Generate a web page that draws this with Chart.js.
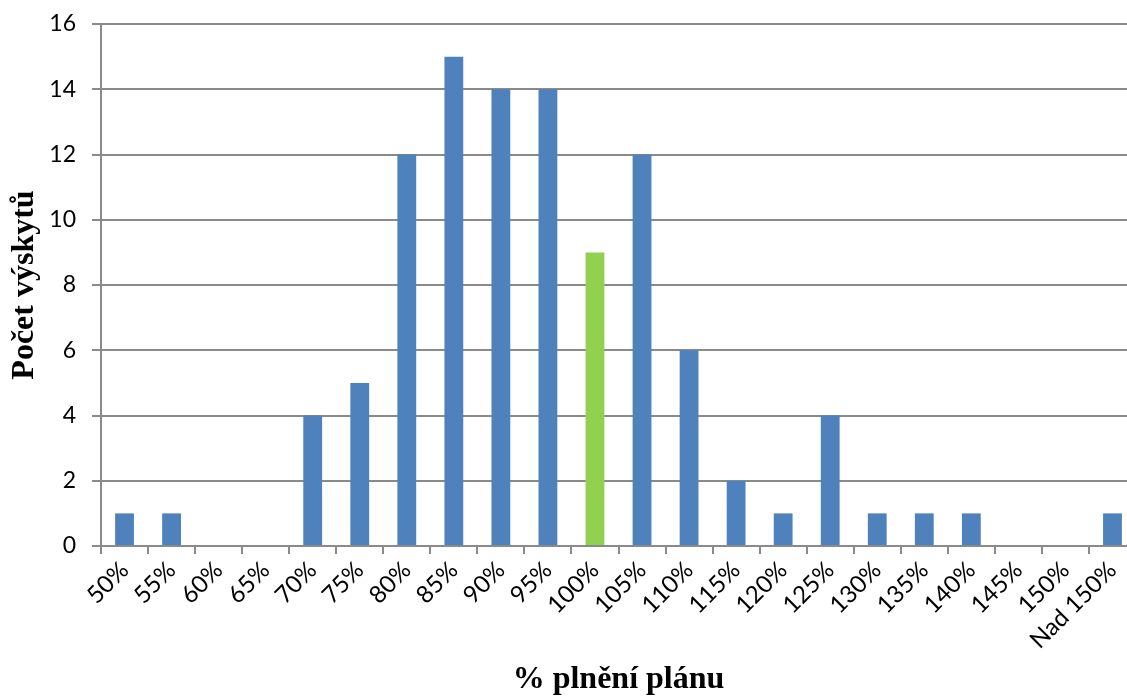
<!DOCTYPE html>
<html>
<head>
<meta charset="UTF-8">
<title>Počet výskytů</title>
<script src="https://cdn.jsdelivr.net/npm/chart.js@4.4.1/dist/chart.umd.min.js"></script>
<style>
  html, body { margin: 0; padding: 0; background: #fff; overflow: hidden; }
  #wrap { width: 1140px; height: 696px; position: relative; }
</style>
</head>
<body>
<div id="wrap"><canvas id="chart"></canvas></div>
<script>
// categories along the x axis
const categories = ['50%', '55%', '60%', '65%', '70%', '75%', '80%', '85%', '90%', '95%', '100%',
  '105%', '110%', '115%', '120%', '125%', '130%', '135%', '140%', '145%', '150%', 'Nad 150%'];
// occurrences per category
const counts = [1, 1, 0, 0, 4, 5, 12, 15, 14, 14, 9, 12, 6, 2, 1, 4, 1, 1, 1, 0, 0, 1];
const highlight = '100%';
const yTicks = [0, 2, 4, 6, 8, 10, 12, 14, 16];

const blue = '#4F81BD';
const green = '#92D050';
const gridGray = '#8a8a8a';

const ctx = document.getElementById('chart').getContext('2d');
new Chart(ctx, {
  type: 'bar',
  data: {
    labels: categories,
    datasets: [{
      data: counts,
      backgroundColor: categories.map(c => c === highlight ? green : blue),
      barPercentage: 0.4,
      categoryPercentage: 1
    }]
  },
  options: {
    responsive: true,
    maintainAspectRatio: false,
    animation: false,
    layout: { padding: { top: 24, right: 4, left: 0, bottom: 0 } },
    plugins: { legend: { display: false }, tooltip: { enabled: false } },
    scales: {
      x: {
        offset: true,
        afterFit: s => { s.paddingLeft = 0; s.paddingRight = 0; s.height = 150; },
        grid: { display: true, drawOnChartArea: false, offset: true, color: gridGray, lineWidth: 2, tickLength: 8 },
        border: { color: gridGray, width: 2 },
        ticks: { color: '#000', font: { family: 'Lato', size: 24 }, minRotation: 45, maxRotation: 45, padding: 2 },
        title: { display: true, text: '% plnění plánu', color: '#000',
          font: { family: 'Liberation Serif', size: 32, weight: 'bold', lineHeight: 1 }, padding: { top: 11, bottom: 0 } }
      },
      y: {
        min: 0, max: 16,
        afterBuildTicks: axis => { axis.ticks = yTicks.map(v => ({ value: v })); },
        afterFit: s => { s.width = 101; s.paddingTop = 0; s.paddingBottom = 0; },
        grid: { color: gridGray, lineWidth: 2, tickLength: 9 },
        border: { color: gridGray, width: 2 },
        ticks: { color: '#000', font: { family: 'Lato', size: 23 }, padding: 16 },
        title: { display: true, text: 'Počet výskytů', color: '#000',
          font: { family: 'Liberation Serif', size: 32, weight: 'bold' }, padding: { top: 6, bottom: 0 } }
      }
    }
  }
});
</script>
</body>
</html>
